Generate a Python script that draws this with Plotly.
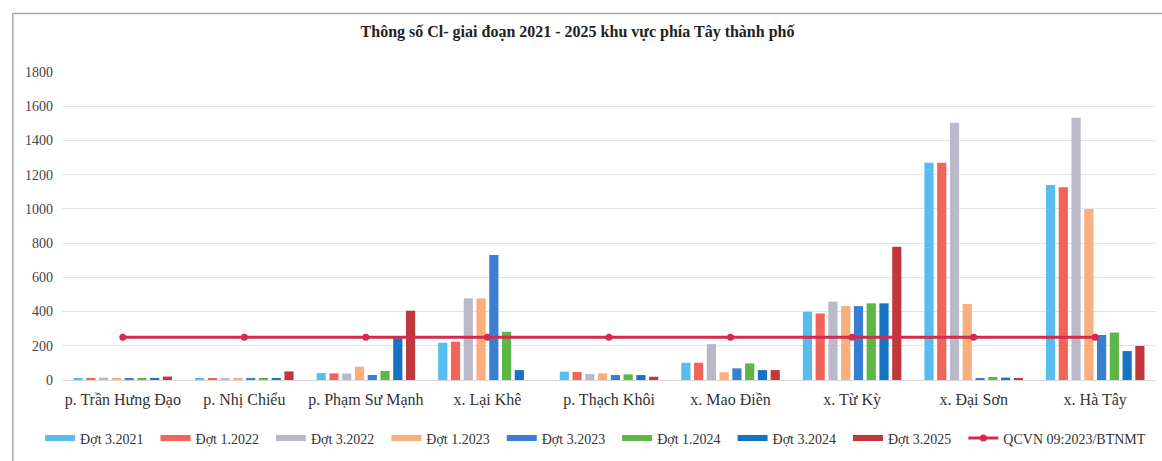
import plotly.graph_objects as go

# Sampling sites (x categories)
sites = [
    "p. Trần Hưng Đạo", "p. Nhị Chiểu", "p. Phạm Sư Mạnh", "x. Lại Khê",
    "p. Thạch Khôi", "x. Mao Điền", "x. Từ Kỳ", "x. Đại Sơn", "x. Hà Tây",
]

# Chloride (Cl-) per monitoring round, mg/L
dot_3_2021 = [10, 8, 40, 218, 49, 101, 399, 1270, 1140]
dot_1_2022 = [12, 10, 39, 224, 47, 101, 389, 1270, 1126]
dot_3_2022 = [14, 12, 38, 477, 35, 210, 458, 1504, 1533]
dot_1_2023 = [12, 12, 78, 477, 39, 45, 432, 444, 999]
dot_3_2023 = [10, 10, 29, 730, 29, 68, 432, 8, 263]
dot_1_2024 = [10, 10, 53, 282, 33, 97, 448, 18, 277]
dot_3_2024 = [12, 12, 244, 58, 29, 58, 448, 14, 169]
dot_3_2025 = [20, 50, 405, None, 19, 58, 779, 6, 199]

# Permitted limit, QCVN 09:2023/BTNMT
qcvn_limit = [250] * len(sites)

series_names = ["Đợt 3.2021", "Đợt 1.2022", "Đợt 3.2022", "Đợt 1.2023",
                "Đợt 3.2023", "Đợt 1.2024", "Đợt 3.2024", "Đợt 3.2025"]
series_values = [dot_3_2021, dot_1_2022, dot_3_2022, dot_1_2023,
                 dot_3_2023, dot_1_2024, dot_3_2024, dot_3_2025]
series_colors = ["#56BDEE", "#F2645A", "#B9B9C9", "#F9AE7C",
                 "#3A7ED3", "#5DB646", "#1473C2", "#C0383C"]
limit_name = "QCVN 09:2023/BTNMT"
limit_color = "#D42A4C"

serif = "Liberation Serif, Times New Roman, serif"
pad = "\u00a0\u00a0"  # a little extra room between legend entries

fig = go.Figure()

for name, vals, col in zip(series_names, series_values, series_colors):
    fig.add_trace(go.Bar(
        x=sites, y=vals, name=name, marker_color=col,
        marker_line_width=0, legendgroup=name, showlegend=False,
    ))
    # wide flat legend swatch in spreadsheet style
    fig.add_trace(go.Scatter(
        x=[None], y=[None], mode="lines", name=name + pad, legendgroup=name,
        line=dict(color=col, width=6), hoverinfo="skip",
    ))

fig.add_trace(go.Scatter(
    x=sites, y=qcvn_limit, name=limit_name, mode="lines+markers",
    line=dict(color=limit_color, width=3),
    marker=dict(color=limit_color, size=7),
))

fig.update_layout(
    width=1162, height=461,
    margin=dict(l=62, r=6, t=72, b=81, autoexpand=False),
    paper_bgcolor="#FFFFFF", plot_bgcolor="#FFFFFF",
    barmode="group", bargap=0.16, bargroupgap=0.28,
    font=dict(family=serif, size=12, color="#333333"),
    title=dict(
        text="<b>Thông số Cl- giai đoạn 2021 - 2025 khu vực phía Tây thành phố</b>",
        x=0.497, xref="container", xanchor="center",
        y=0.932, yref="container", yanchor="middle",
        font=dict(family=serif, size=16, color="#222222"),
    ),
    xaxis=dict(
        showgrid=False, showline=True, linecolor="#D9D9D9", linewidth=1,
        tickfont=dict(family=serif, size=16, color="#333333"),
        ticks="", ticklabelstandoff=5,
    ),
    yaxis=dict(
        range=[0, 1800], dtick=200, showgrid=True, gridcolor="#E4E4E4",
        gridwidth=1, zeroline=False, showline=False, ticks="",
        tickfont=dict(family=serif, size=14, color="#444444"),
        ticklabelstandoff=8,
    ),
    legend=dict(
        orientation="h", x=-0.02, xanchor="left", y=-0.19, yanchor="middle",
        font=dict(family=serif, size=14, color="#333333"),
        itemwidth=30, tracegroupgap=0,
    ),
    showlegend=True,
    shapes=[dict(
        type="rect", xref="paper", yref="paper",
        x0=-0.045, x1=1.01, y0=-0.4, y1=1.19,
        line=dict(color="#A9A9A9", width=1.5), fillcolor="rgba(0,0,0,0)",
        layer="below",
    )],
)

fig.write_html("out.html")
